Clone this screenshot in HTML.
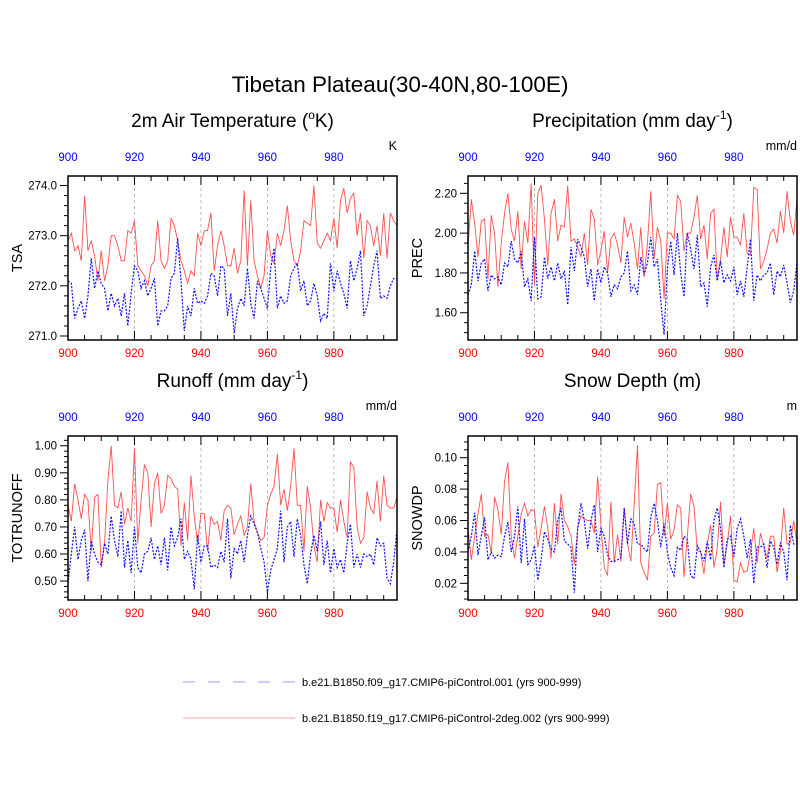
<!DOCTYPE html>
<html><head><meta charset="utf-8"><style>
html,body{margin:0;padding:0;background:#fff;}
svg{display:block;font-family:"Liberation Sans",sans-serif;}
</style></head><body>
<svg id="chart" width="800" height="800" viewBox="0 0 800 800">
<text x="400" y="92" text-anchor="middle" font-size="22.5">Tibetan Plateau(30-40N,80-100E)</text>
<g id="legend">
<line x1="183" y1="682" x2="295" y2="682" stroke="#b0b0ff" stroke-width="1.3" stroke-dasharray="12,13"/>
<text x="302" y="686" font-size="11">b.e21.B1850.f09_g17.CMIP6-piControl.001 (yrs 900-999)</text>
<line x1="183" y1="718" x2="295" y2="718" stroke="#ffb0b0" stroke-width="1.3"/>
<text x="302" y="722" font-size="11">b.e21.B1850.f19_g17.CMIP6-piControl-2deg.002 (yrs 900-999)</text>
</g>
</svg>
<script>
const years = 900;
const tsaRed = [272.9,273.05,272.7,272.8,272.5,273.8,272.7,272.9,272.6,272.1,272.7,272.1,272.4,273.0,273.0,272.8,272.5,272.5,273.1,273.05,273.3,272.4,272.3,272.2,272.0,272.4,272.5,273.3,272.5,272.35,272.5,273.35,273.2,272.9,272.5,272.3,272.05,272.3,272.2,273.05,272.8,273.1,273.1,273.45,272.3,272.8,273.1,272.8,272.4,272.4,272.75,272.25,272.5,273.9,272.4,273.7,272.5,272.2,271.95,272.2,273.1,272.6,272.45,273.05,272.8,273.1,273.6,272.9,272.5,272.4,272.7,273.3,273.25,273.2,274.0,272.85,272.75,272.9,273.05,272.9,273.35,272.75,273.7,273.95,273.45,273.75,273.85,273.0,273.45,272.55,273.3,273.2,272.8,273.2,272.6,273.45,272.55,273.45,273.3,273.2];
const tsaBlue = [272.1,272.05,271.35,271.55,271.7,271.35,271.8,272.55,271.95,272.3,272.05,271.95,271.5,271.85,271.6,271.75,271.4,271.85,271.2,271.85,272.4,272.3,271.95,272.1,271.8,271.95,272.15,271.2,271.5,271.5,271.6,272.15,272.25,272.95,272.1,271.1,271.6,271.4,271.95,271.65,271.7,271.65,271.8,272.25,272.2,271.8,272.4,272.35,271.4,271.85,271.05,271.55,271.75,271.6,272.35,271.65,271.35,272.1,271.95,271.75,271.55,272.35,272.75,271.55,271.8,271.65,271.7,272.2,272.35,272.45,271.9,272.1,271.6,271.7,272.05,271.8,271.3,271.45,271.35,272.45,271.9,272.3,272.05,271.85,271.55,272.5,272.1,272.35,272.7,271.4,271.6,272.0,272.4,272.7,271.75,271.8,271.75,272.0,272.15,272.15];
const precRed = [1.93,2.17,2.05,1.88,2.06,2.07,1.77,2.09,2.0,1.73,1.95,2.1,2.2,2.02,1.96,2.11,1.82,2.06,1.95,2.25,1.74,2.2,2.24,2.07,1.84,2.1,2.17,1.96,2.04,2.03,2.24,1.96,1.97,1.93,1.88,2.0,1.84,2.12,2.07,1.84,1.91,2.01,1.8,1.97,2.0,1.94,1.85,2.08,1.98,2.05,1.95,1.82,2.03,1.78,1.95,2.21,1.87,2.03,1.96,1.67,2.0,2.0,1.97,2.19,2.16,1.91,2.0,2.0,2.08,2.19,1.97,2.04,1.87,2.1,2.12,1.77,1.87,2.03,1.88,2.08,1.98,1.98,1.94,2.1,1.9,1.89,2.23,2.22,1.82,1.86,1.92,2.0,2.02,1.95,2.11,2.0,2.21,2.06,1.99,2.17];
const precBlue = [1.69,1.74,1.91,1.76,1.85,1.87,1.71,1.79,1.77,1.78,1.74,1.85,1.83,1.96,1.87,1.85,1.91,1.73,1.77,1.66,1.98,1.67,1.68,1.88,1.77,1.83,1.76,1.85,1.77,1.81,1.64,1.93,1.81,1.97,1.93,1.88,1.73,1.82,1.66,1.82,1.75,1.83,1.8,1.68,1.74,1.72,1.78,1.8,1.91,1.71,1.74,1.69,1.88,1.79,1.85,1.98,1.83,1.87,1.66,1.49,1.82,1.96,1.79,2.0,1.8,1.68,2.0,1.92,1.82,1.99,1.73,1.75,1.63,1.83,1.89,1.76,1.86,1.75,1.79,1.76,1.83,1.69,1.76,1.68,1.83,1.97,1.66,1.79,1.76,1.79,1.8,1.85,1.69,1.81,1.78,1.84,1.75,1.65,1.71,1.85];
const roRed = [0.78,0.72,0.86,0.8,0.73,0.82,0.8,0.61,0.81,0.82,0.55,0.64,0.87,1.0,0.78,0.77,0.83,0.71,0.77,0.72,0.99,0.64,0.8,0.93,0.9,0.7,0.86,0.9,0.75,0.78,0.89,0.88,0.85,0.84,0.63,0.79,0.65,0.89,0.74,0.64,0.75,0.75,0.61,0.74,0.71,0.72,0.65,0.76,0.78,0.77,0.67,0.71,0.74,0.67,0.7,0.86,0.72,0.68,0.65,0.66,0.78,0.82,0.85,0.97,0.78,0.84,0.76,0.85,0.99,0.78,0.78,0.61,0.85,0.77,0.63,0.57,0.8,0.72,0.79,0.77,0.77,0.68,0.8,0.72,0.66,0.94,0.92,0.7,0.64,0.66,0.83,0.77,0.75,0.87,0.72,0.89,0.78,0.77,0.77,0.81];
const roBlue = [0.49,0.6,0.7,0.58,0.65,0.69,0.5,0.65,0.6,0.57,0.56,0.64,0.6,0.74,0.65,0.59,0.76,0.55,0.65,0.53,0.7,0.55,0.53,0.6,0.61,0.66,0.58,0.63,0.56,0.66,0.54,0.7,0.63,0.66,0.73,0.58,0.61,0.58,0.47,0.67,0.57,0.63,0.63,0.55,0.56,0.55,0.61,0.57,0.73,0.51,0.62,0.6,0.65,0.57,0.67,0.74,0.71,0.68,0.62,0.57,0.46,0.54,0.58,0.62,0.76,0.57,0.7,0.72,0.59,0.73,0.67,0.56,0.49,0.6,0.67,0.61,0.72,0.56,0.65,0.53,0.62,0.55,0.58,0.53,0.64,0.71,0.55,0.6,0.55,0.6,0.59,0.6,0.56,0.66,0.63,0.64,0.51,0.49,0.57,0.69];
const snRed = [0.055,0.035,0.05,0.064,0.077,0.05,0.051,0.039,0.075,0.067,0.051,0.085,0.097,0.05,0.036,0.05,0.064,0.071,0.063,0.067,0.066,0.043,0.055,0.069,0.055,0.036,0.071,0.045,0.077,0.06,0.056,0.05,0.032,0.055,0.063,0.061,0.06,0.06,0.052,0.088,0.057,0.03,0.025,0.072,0.033,0.051,0.034,0.068,0.045,0.034,0.07,0.108,0.033,0.027,0.022,0.05,0.052,0.083,0.084,0.05,0.071,0.048,0.054,0.07,0.068,0.024,0.05,0.077,0.069,0.041,0.04,0.026,0.045,0.057,0.03,0.042,0.072,0.032,0.045,0.063,0.022,0.021,0.033,0.027,0.028,0.04,0.055,0.033,0.052,0.044,0.036,0.05,0.05,0.027,0.04,0.068,0.045,0.046,0.06,0.045];
const snBlue = [0.04,0.05,0.065,0.038,0.05,0.062,0.035,0.04,0.036,0.038,0.037,0.05,0.059,0.04,0.05,0.069,0.033,0.061,0.032,0.035,0.044,0.022,0.035,0.053,0.048,0.042,0.04,0.06,0.068,0.047,0.045,0.043,0.014,0.055,0.071,0.06,0.042,0.06,0.07,0.04,0.055,0.05,0.038,0.034,0.034,0.035,0.036,0.068,0.045,0.061,0.058,0.045,0.045,0.042,0.04,0.062,0.071,0.06,0.043,0.058,0.04,0.03,0.025,0.043,0.041,0.05,0.048,0.025,0.023,0.044,0.04,0.034,0.047,0.035,0.06,0.068,0.055,0.03,0.048,0.05,0.037,0.055,0.061,0.05,0.036,0.048,0.02,0.043,0.043,0.045,0.03,0.047,0.043,0.032,0.046,0.04,0.022,0.057,0.045,0.045];
const xTicks = [900,920,940,960,980];
const tsaTicks = [271.0,272.0,273.0,274.0];
const precTicks = [1.60,1.80,2.00,2.20];
const roTicks = [0.50,0.60,0.70,0.80,0.90,1.00];
const snTicks = [0.02,0.04,0.06,0.08,0.10];

const NS='http://www.w3.org/2000/svg';
const svg=document.getElementById('chart');
function mk(tag,attrs,parent){const e=document.createElementNS(NS,tag);for(const k in attrs)e.setAttribute(k,attrs[k]);(parent||svg).appendChild(e);return e;}

const panels=[
 {id:'tsa',x0:68,y0:176,title:'2m Air Temperature (',sup:'o',post:'K)',unit:'K',ylab:'TSA',ymin:270.92,ymax:274.19,ticks:tsaTicks,dec:1,minor:0.2,red:tsaRed,blue:tsaBlue},
 {id:'prec',x0:468,y0:176,title:'Precipitation (mm day',sup:'-1',post:')',unit:'mm/d',ylab:'PREC',ymin:1.463,ymax:2.287,ticks:precTicks,dec:2,minor:0.05,red:precRed,blue:precBlue},
 {id:'runoff',x0:68,y0:436,title:'Runoff (mm day',sup:'-1',post:')',unit:'mm/d',ylab:'TOTRUNOFF',ymin:0.430,ymax:1.036,ticks:roTicks,dec:2,minor:0.02,red:roRed,blue:roBlue},
 {id:'snow',x0:468,y0:436,title:'Snow Depth (m)',sup:'',post:'',unit:'m',ylab:'SNOWDP',ymin:0.0094,ymax:0.1138,ticks:snTicks,dec:2,minor:0.005,red:snRed,blue:snBlue}
];
const W=329,H=164,XMIN=900,XMAX=999;
panels.forEach(p=>{
 const g=mk('g',{});
 
 
 const X=v=>p.x0+(v-XMIN)/(XMAX-XMIN)*W;
 const Y=v=>p.y0+H-(v-p.ymin)/(p.ymax-p.ymin)*H;
 const t=mk('text',{x:p.x0+W/2,y:p.y0-49,'text-anchor':'middle','font-size':'19'},g);
 
 
 t.appendChild(document.createTextNode(p.title));
 if(p.sup){const s=mk('tspan',{'font-size':'12','dy':'-8'},t);s.textContent=p.sup;const s2=mk('tspan',{'font-size':'19','dy':'8'},t);s2.textContent=p.post;}
 const u=mk('text',{x:p.x0+W,y:p.y0-26,'text-anchor':'end','font-size':'12.5'},g);
 
 
 u.textContent=p.unit;
 const yl=mk('text',{x:0,y:0,'text-anchor':'middle','font-size':'14.5',transform:`translate(${p.x0-46},${p.y0+H/2}) rotate(-90)`},g);
 
 
 yl.textContent=p.ylab;
 xTicks.slice(1).forEach(v=>{const l=mk('line',{x1:X(v),x2:X(v),y1:p.y0,y2:p.y0+H,stroke:'#aaa','stroke-width':'0.8','stroke-dasharray':'3,3'},g);
  
  });
 for(let v=900;v<=995;v+=5){const major=v%20===0;const len=major?9:5;
  mk('line',{x1:X(v),x2:X(v),y1:p.y0,y2:p.y0+len,stroke:'#000','stroke-width':'1'},g);
  mk('line',{x1:X(v),x2:X(v),y1:p.y0+H,y2:p.y0+H-len,stroke:'#000','stroke-width':'1'},g);}
 xTicks.forEach(v=>{
  const a=mk('text',{x:X(v),y:p.y0-15,'text-anchor':'middle','font-size':'11.5',fill:'#0000ff'},g);
  
  
  a.textContent=v;
  const b=mk('text',{x:X(v),y:p.y0+H+17,'text-anchor':'middle','font-size':'11.5',fill:'#ff0000'},g);
  
  
  b.textContent=v;});
 const lo=Math.ceil(p.ymin/p.minor-1e-6),hi=Math.floor(p.ymax/p.minor+1e-6);
 for(let k=lo;k<=hi;k++){const v=k*p.minor;const yy=Y(v);
  const major=p.ticks.some(t=>Math.abs(t-v)<p.minor/10);
  mk('line',{x1:p.x0-(major?8:4),x2:p.x0,y1:yy,y2:yy,stroke:'#000','stroke-width':'1'},g);}
 p.ticks.forEach(v=>{const tl=mk('text',{x:p.x0-11,y:Y(v)+4,'text-anchor':'end','font-size':'11.5'},g);
  
  
  tl.textContent=v.toFixed(p.dec);});
 const clip=mk('clipPath',{id:'c'+p.id},g);mk('rect',{x:p.x0,y:p.y0,width:W,height:H},clip);
 const path=arr=>arr.map((v,i)=>(i?'L':'M')+X(years+i).toFixed(2)+' '+Y(v).toFixed(2)).join('');
 const r=mk('path',{d:path(p.red),fill:'none',stroke:'#ff5050','stroke-width':'0.9','clip-path':`url(#c${p.id})`},g);
 
 
 const bl=mk('path',{d:path(p.blue),fill:'none',stroke:'#1010ff','stroke-width':'1.2','stroke-dasharray':'2,1.5','clip-path':`url(#c${p.id})`},g);
 
 
 const f=mk('rect',{x:p.x0,y:p.y0,width:W,height:H,fill:'none',stroke:'#000','stroke-width':'1.5'},g);
 
 
});
</script>
</body></html>
